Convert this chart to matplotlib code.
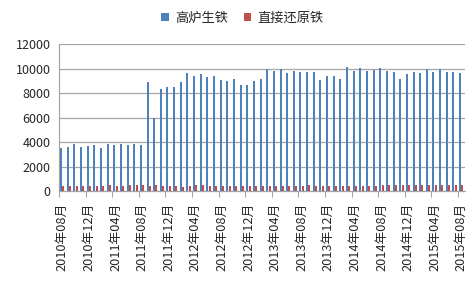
import matplotlib
matplotlib.use('Agg')
import matplotlib.pyplot as plt
import numpy as np

plt.rcParams['font.family'] = ['Noto Sans CJK SC', 'DejaVu Sans']

# monthly, 2010-08 .. 2015-08
months = [f'{y}年{m:02d}月' for y in range(2010, 2016) for m in range(1, 13)
          if (y, m) >= (2010, 8) and (y, m) <= (2015, 8)]

blast_furnace = [3530, 3590, 3860, 3640, 3720, 3800, 3560, 3860, 3750, 3860,
                 3750, 3910, 3800, 8910, 5980, 8340, 8500, 8500, 8940, 9650,
                 9430, 9590, 9350, 9430, 9100, 8990, 9130, 8700, 8700, 8990,
                 9180, 10000, 9840, 10000, 9620, 9840, 9780, 9760, 9780, 9050,
                 9400, 9380, 9130, 10140, 9860, 10080, 9840, 9920, 10080, 9840,
                 9730, 9160, 9570, 9780, 9670, 10000, 9730, 10000, 9780, 9730,
                 9670]
direct_reduced = [420, 430, 470, 430, 480, 470, 430, 520, 480, 480,
                  520, 540, 520, 480, 520, 470, 460, 420, 370, 480,
                  490, 490, 440, 440, 430, 430, 430, 430, 430, 420,
                  470, 480, 480, 480, 430, 480, 480, 540, 480, 470,
                  470, 430, 430, 480, 470, 470, 430, 420, 490, 490,
                  490, 490, 490, 490, 490, 540, 490, 490, 490, 510,
                  510]
series_names = ['高炉生铁', '直接还原铁']

fig = plt.figure(figsize=(4.75, 2.82), dpi=100)
ax = fig.add_axes([0.124, 0.321, 0.854, 0.522])

x = np.arange(len(months))
ax.bar(x - 0.17, blast_furnace, width=0.30, color='#4F81BD', label=series_names[0], zorder=3)
ax.bar(x + 0.17, direct_reduced, width=0.30, color='#C0504D', label=series_names[1], zorder=3)

ax.set_xlim(-0.5, len(months) - 0.5)
ax.set_ylim(0, 12000)
ax.set_yticks(range(0, 12001, 2000))
ax.grid(axis='y', color='#A6A6A6', linewidth=0.9, zorder=0)

# tick marks between categories, labels every 4 months
ax.set_xticks(np.arange(-0.5, len(months), 4))
ax.set_xticklabels([])
ax.set_xticks(x[::4], minor=True)
ax.set_xticklabels(months[::4], minor=True, rotation=90, fontsize=9.2, color='#262626')
ax.tick_params(axis='x', which='major', length=4, color='#A6A6A6')
ax.tick_params(axis='x', which='minor', length=0, pad=8)
ax.tick_params(axis='y', length=0, pad=6, labelsize=9, labelcolor='#262626')

for s in ['top', 'right']:
    ax.spines[s].set_visible(False)
for s in ['left', 'bottom']:
    ax.spines[s].set_color('#A6A6A6')
    ax.spines[s].set_linewidth(0.9)

fig.legend(loc='center', bbox_to_anchor=(0.51, 0.935), ncol=2, frameon=False,
           fontsize=9.5, handlelength=0.6, handleheight=0.6, handletextpad=0.45,
           columnspacing=1.2, labelcolor='#262626')

fig.savefig('out.png', dpi=100)
